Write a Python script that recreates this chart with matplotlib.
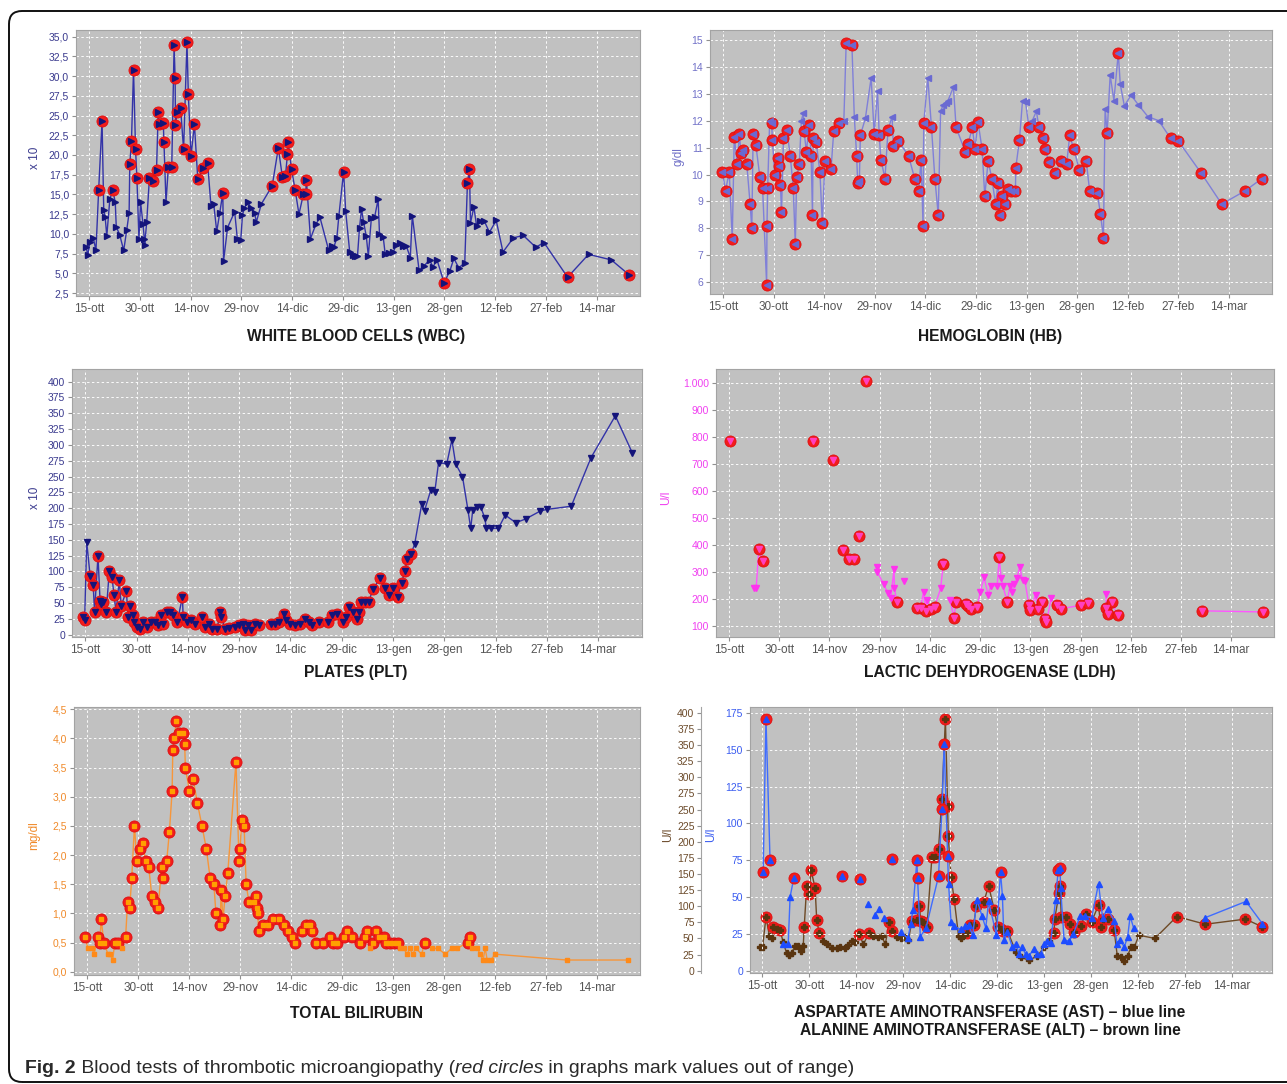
import numpy as np
import matplotlib
matplotlib.use("Agg")
import matplotlib.pyplot as plt
from matplotlib.ticker import FuncFormatter
from matplotlib.patches import FancyBboxPatch

plt.rcParams['font.family'] = ['Liberation Sans Narrow', 'Liberation Sans', 'DejaVu Sans']

# ---------------- data (day 0 = 15 October) ----------------
xtick_pos = [0, 15, 30, 45, 60, 75, 90, 105, 120, 135, 150]
xtick_lbl = ["15-ott", "30-ott", "14-nov", "29-nov", "14-dic", "29-dic",
             "13-gen", "28-gen", "12-feb", "27-feb", "14-mar"]

wbc = [(-0.9, 8.3), (-0.4, 7.3), (0.2, 9.0), (1.2, 9.5), (2.0, 7.9), (2.8, 15.6), (3.8, 24.3),
       (4.3, 13.0), (4.7, 12.2), (5.2, 9.7), (6.1, 14.4), (7.0, 15.5), (7.7, 14.0), (8.0, 10.9),
       (9.0, 9.9), (10.2, 7.9), (11.1, 10.5), (11.8, 12.7), (12.0, 18.8), (12.5, 21.8), (13.1, 30.8),
       (13.7, 20.7), (14.1, 17.1), (14.7, 9.4), (15.2, 14.0), (15.9, 11.2), (16.3, 9.4), (16.4, 8.6),
       (17.0, 11.5), (17.8, 17.1), (19.0, 16.7), (19.9, 18.1), (20.4, 25.5), (20.7, 23.9), (21.9, 24.0),
       (22.1, 21.6), (22.7, 14.0), (23.4, 18.5), (24.4, 18.5), (25.1, 33.9), (25.4, 29.7), (25.5, 23.8),
       (26.0, 25.5), (27.0, 26.0), (27.9, 20.7), (28.9, 34.3), (29.3, 27.7), (30.1, 19.9), (31.1, 23.9),
       (32.1, 16.9), (33.6, 18.3), (35.0, 19.0), (36.0, 13.5), (36.8, 13.8), (37.7, 10.3), (38.6, 12.7),
       (39.5, 15.2), (39.7, 6.5), (40.9, 10.8), (43.0, 12.8), (43.8, 9.3), (44.8, 9.2), (45.3, 12.4),
       (45.9, 13.3), (46.9, 14.0), (47.9, 13.3), (48.9, 12.6), (49.4, 11.5), (50.9, 13.8), (54.1, 16.1),
       (55.9, 20.9), (57.1, 17.2), (58.0, 17.3), (58.6, 20.1), (58.8, 21.6), (59.8, 18.2), (60.9, 15.5),
       (62.0, 12.5), (63.3, 15.0), (64.0, 15.0), (64.2, 16.8), (65.4, 9.4), (67.0, 11.2), (68.2, 12.1),
       (70.8, 7.9), (71.7, 8.5), (72.3, 8.3), (73.2, 9.5), (73.8, 12.3), (75.2, 17.9), (75.8, 12.9),
       (77.0, 7.7), (77.9, 7.3), (78.7, 7.2), (79.3, 7.2), (79.9, 10.8), (80.5, 13.1), (81.1, 11.5),
       (81.9, 9.7), (82.5, 7.2), (83.4, 12.0), (84.4, 12.2), (85.4, 14.4), (85.8, 10.0), (86.9, 9.6),
       (87.5, 7.4), (88.7, 7.6), (89.9, 7.7), (90.7, 8.6), (91.9, 8.8), (92.8, 8.4), (93.7, 8.5),
       (94.9, 7.0), (95.5, 12.3), (97.5, 5.4), (98.9, 5.9), (100.6, 6.7), (101.6, 5.8), (102.8, 6.7),
       (104.9, 3.8), (106.6, 5.3), (107.8, 6.9), (109.2, 5.7), (111.0, 6.3), (111.8, 16.5), (112.4, 18.2),
       (112.7, 11.4), (113.7, 13.4), (114.5, 11.0), (115.6, 11.6), (116.8, 11.6), (118.3, 10.2),
       (120.3, 11.7), (122.3, 7.7), (125.4, 9.5), (128.3, 9.8), (132.0, 8.3), (134.4, 8.9),
       (141.4, 4.5), (147.6, 7.4), (154.3, 6.7), (159.6, 4.8)]

hb = [(-0.2, 10.1), (0.7, 9.4), (1.8, 10.1), (2.7, 7.6), (3.3, 11.4), (4.2, 10.4), (4.8, 11.5),
      (5.3, 10.8), (6.0, 10.9), (7.0, 10.4), (8.0, 8.9), (8.5, 8.0), (8.9, 11.5), (9.7, 11.1),
      (10.9, 9.9), (11.7, 9.5), (12.9, 5.9), (13.0, 8.1), (13.2, 9.5), (13.8, 12.0), (14.4, 11.9),
      (14.6, 11.3), (15.3, 10.0), (16.2, 10.6), (16.5, 10.3), (17.0, 9.6), (17.3, 8.6), (17.9, 11.35),
      (18.9, 11.65), (19.9, 10.7), (20.8, 9.5), (21.4, 7.4), (21.8, 9.9), (22.6, 10.4), (23.2, 12.0),
      (23.8, 12.3), (24.0, 11.6), (24.7, 10.85), (25.5, 11.85), (26.1, 10.7), (26.5, 8.5), (26.7, 11.35),
      (27.6, 11.2), (28.7, 10.1), (29.4, 8.2), (30.2, 10.5), (32.0, 10.2), (32.8, 11.6), (34.3, 11.9),
      (35.8, 12.0), (36.5, 14.9), (38.2, 14.8), (38.9, 12.15), (39.6, 10.7), (39.9, 9.7), (40.4, 9.75),
      (40.7, 11.45), (42.2, 12.1), (43.9, 13.6), (44.8, 11.5), (45.8, 13.1), (46.3, 11.45), (46.8, 10.55),
      (48.0, 9.85), (48.9, 11.65), (50.1, 12.15), (50.5, 11.05), (51.9, 11.25), (55.0, 10.7), (56.8, 9.85),
      (58.0, 9.4), (58.7, 10.55), (59.3, 8.1), (59.5, 11.9), (60.7, 13.6), (61.8, 11.75), (62.8, 9.85),
      (63.8, 8.5), (64.5, 12.35), (65.3, 12.6), (66.2, 12.65), (66.7, 12.75), (68.3, 13.25), (69.1, 11.75),
      (71.8, 10.85), (72.7, 11.15), (73.9, 11.75), (74.7, 10.95), (75.6, 11.95), (76.8, 10.95), (77.6, 9.2),
      (78.6, 10.5), (79.7, 9.85), (80.8, 8.9), (81.5, 9.7), (82.0, 8.5), (82.7, 9.2), (83.7, 8.9),
      (84.4, 9.45), (85.5, 9.4), (86.7, 9.4), (86.8, 10.25), (87.9, 11.3), (88.8, 12.75), (89.7, 12.7),
      (90.7, 11.75), (91.7, 12.0), (92.9, 12.35), (93.7, 11.75), (94.8, 11.35), (95.6, 10.95), (96.6, 10.45),
      (98.5, 10.05), (100.1, 10.5), (101.9, 10.4), (102.8, 11.45), (104.0, 10.95), (105.7, 10.15),
      (107.7, 10.5), (108.7, 9.4), (111.0, 9.3), (111.9, 8.55), (112.8, 7.65), (113.3, 12.45), (113.9, 11.55),
      (114.8, 13.7), (115.9, 12.75), (117.2, 14.5), (117.8, 13.35), (119.0, 12.55), (121.0, 12.95),
      (123.1, 12.6), (126.0, 12.15), (129.2, 12.0), (132.7, 11.35), (135.0, 11.25), (141.8, 10.05),
      (147.9, 8.9), (154.9, 9.4), (159.8, 9.85)]

plt_ = [(-0.6, 28), (-0.2, 23), (0.4, 147), (1.4, 93), (2.3, 78), (2.7, 36), (3.7, 125), (4.3, 54),
        (4.7, 48), (5.3, 52), (6.1, 36), (7.0, 100), (7.8, 91), (8.4, 62), (9.0, 36), (9.9, 86), (10.5, 46),
        (12.0, 69), (12.5, 28), (13.1, 46), (13.8, 31), (14.2, 20), (15.2, 12), (16.1, 9), (16.9, 20),
        (17.9, 12), (19.3, 20), (20.4, 20), (21.2, 15), (22.2, 31), (22.8, 17), (23.9, 36), (24.9, 36),
        (25.7, 31), (26.9, 20), (28.4, 60), (28.6, 28), (29.8, 20), (30.9, 23), (32.1, 17), (34.1, 28),
        (35.0, 12), (36.2, 17), (37.1, 9), (38.5, 9), (39.5, 36), (39.7, 28), (40.9, 9), (42.0, 11),
        (43.8, 12), (45.0, 15), (46.1, 17), (46.7, 7), (47.6, 16), (48.5, 7), (49.6, 17), (50.8, 15),
        (54.3, 17), (55.5, 17), (56.6, 20), (58.1, 33), (58.7, 23), (59.9, 17), (61.3, 15), (62.8, 17),
        (64.2, 25), (65.4, 20), (66.3, 15), (68.3, 20), (71.0, 20), (72.2, 31), (73.6, 33), (75.3, 20),
        (76.1, 28), (77.1, 44), (78.2, 36), (79.4, 25), (80.0, 36), (80.6, 52), (81.7, 52), (82.9, 52),
        (84.1, 72), (86.2, 89), (87.6, 74), (88.7, 62), (90.1, 74), (91.3, 60), (92.5, 82), (93.4, 100),
        (94.2, 120), (95.2, 127), (96.3, 143), (98.4, 207), (99.2, 196), (101.0, 228), (102.2, 226),
        (103.3, 272), (105.7, 270), (107.2, 308), (108.3, 270), (110.3, 250), (111.9, 197), (112.7, 168),
        (113.3, 197), (114.4, 202), (115.6, 202), (116.8, 185), (117.3, 168), (118.5, 168), (120.8, 168),
        (122.8, 189), (125.9, 177), (128.8, 183), (132.9, 195), (134.9, 198), (142.1, 203), (147.9, 280),
        (155.0, 346), (160.0, 287)]

# None = measurement gap (line interrupted)
ldh = [(0.4, 786), None, (7.5, 241), (8.1, 239), (8.9, 387), (10.2, 340), None, (25.2, 786), None,
       (31.2, 715), None, (34.1, 381), (35.9, 350), (37.4, 350), None, (38.9, 434), None, (41.0, 1009),
       None, (44.2, 319), (44.3, 300), (46.2, 255), (47.4, 223), (48.3, 202), (49.3, 313), (49.4, 242),
       (50.1, 189), None, (52.3, 266), None, (56.0, 168), (57.2, 168), (58.1, 226), (58.8, 154),
       (59.0, 195), (60.2, 164), (61.4, 171), (63.2, 239), (64.0, 329), None, (66.1, 195), (67.1, 131),
       (67.9, 189), None, (70.9, 183), (71.4, 174), (72.3, 162), (74.2, 171), (75.0, 226), (76.2, 280),
       (77.4, 216), (78.2, 249), (80.1, 249), (80.7, 354), (81.3, 276), (81.8, 249), (83.1, 189),
       (83.9, 249), (84.5, 226), (85.1, 254), (86.0, 276), (86.8, 319), (87.7, 270), (88.4, 266),
       (89.6, 177), (90.0, 158), (91.6, 216), (92.2, 164), (93.4, 187), (94.3, 127), (94.8, 115),
       (96.3, 205), None, (98.1, 179), (99.3, 164), (105.2, 177), (107.2, 185), None, (112.6, 220),
       (112.7, 167), (113.3, 146), (114.3, 187), (116.1, 140), None, (141.4, 156), (159.5, 152)]

bili = [(-0.6, 0.6), (0.2, 0.4), (1.4, 0.4), (2.0, 0.3), (3.2, 0.6), (3.7, 0.5), (4.1, 0.9), (4.9, 0.5),
        (6.1, 0.3), (6.7, 0.3), (7.5, 0.2), (8.1, 0.5), (9.2, 0.5), (10.2, 0.4), (11.3, 0.6), (11.9, 1.2),
        (12.5, 1.1), (13.1, 1.6), (13.9, 2.5), (14.6, 1.9), (15.4, 2.1), (16.3, 2.2), (17.2, 1.9),
        (18.1, 1.8), (19.0, 1.3), (20.1, 1.2), (20.9, 1.1), (21.9, 1.8), (22.2, 1.6), (23.4, 1.9),
        (24.2, 2.4), (25.0, 3.1), (25.2, 3.8), (25.6, 4.0), (26.2, 4.3), (27.1, 4.1), (28.3, 4.1),
        (28.7, 3.9), (28.9, 3.5), (30.1, 3.1), (31.2, 3.3), (32.4, 2.9), (33.8, 2.5), (35.1, 2.1),
        (36.2, 1.6), (37.3, 1.5), (37.9, 1.0), (39.2, 0.8), (39.4, 1.4), (40.0, 0.9), (40.6, 1.3),
        (41.4, 1.7), (43.8, 3.6), (44.7, 1.9), (45.0, 2.1), (45.5, 2.6), (46.2, 2.5), (46.8, 1.5),
        (47.6, 1.2), (49.0, 1.2), (49.7, 1.3), (49.9, 1.1), (50.2, 1.0), (50.5, 0.7), (51.7, 0.8),
        (53.2, 0.8), (54.6, 0.9), (56.4, 0.9), (57.9, 0.8), (59.1, 0.7), (60.3, 0.6), (61.1, 0.5),
        (63.2, 0.7), (64.4, 0.8), (65.5, 0.8), (66.3, 0.7), (67.5, 0.5), (69.3, 0.5), (71.4, 0.6),
        (72.5, 0.5), (73.7, 0.5), (75.5, 0.6), (76.5, 0.7), (78.0, 0.6), (80.4, 0.5), (81.8, 0.6),
        (82.5, 0.7), (83.3, 0.4), (84.1, 0.5), (85.1, 0.7), (86.0, 0.6), (87.4, 0.6), (88.0, 0.5),
        (89.2, 0.5), (90.3, 0.5), (91.5, 0.5), (92.1, 0.4), (93.2, 0.4), (94.2, 0.3), (95.0, 0.4),
        (95.8, 0.3), (96.8, 0.4), (98.5, 0.3), (99.4, 0.5), (101.4, 0.4), (103.2, 0.4), (105.5, 0.3),
        (107.3, 0.4), (109.0, 0.4), (112.0, 0.5), (112.8, 0.6), (113.4, 0.4), (114.9, 0.4), (115.7, 0.3),
        (116.6, 0.2), (117.2, 0.4), (117.8, 0.2), (118.8, 0.2), (120.2, 0.3), (141.2, 0.2), (159.4, 0.2)]

ast = [(0.3, 67), (1.2, 171), (2.5, 75), None, (6.7, 18), (8.3, 18), (8.9, 50), (10.1, 63), None,
       (25.4, 64), None, (31.3, 62), None, (33.9, 45), None, (36.1, 38), None, (37.4, 42), None,
       (39.0, 36), None, (41.4, 76), None, (44.3, 26), (46.5, 22), (47.5, 32), (48.1, 41), (49.4, 75),
       (49.6, 63), (50.5, 23), (52.3, 29), (56.3, 64), (57.4, 110), (58.1, 154), (59.2, 78), (59.5, 59),
       (60.3, 33), (61.3, 30), (63.5, 28), (64.9, 30), (65.9, 31), (67.2, 24), (68.6, 48), (70.2, 37),
       (71.4, 29), (72.3, 47), (74.8, 24), (76.1, 67), (76.7, 51), (77.2, 21), (78.3, 26), (79.9, 16),
       (81.0, 18), (82.0, 11), (83.1, 16), (84.1, 11), (85.2, 10), (86.8, 15), (87.9, 11), (88.9, 11),
       (90.0, 18), (91.1, 20), (92.1, 19), (93.7, 48), (94.5, 68), (95.1, 70), (95.3, 56), (96.4, 21),
       (98.0, 20), (99.4, 25), (101.5, 37), (103.0, 37), (105.2, 36), (107.4, 59), (108.7, 36),
       (110.3, 42), (112.4, 34), (113.3, 18), (114.3, 21), (115.6, 16), (116.7, 23), (117.5, 37),
       (118.6, 29), None, (141.5, 36), (154.5, 47), (159.7, 32)]

alt = [(-0.7, 36), (0.1, 36), (1.2, 83), (2.3, 54), (3.0, 50), (3.5, 67), (4.6, 65), (5.7, 63), (6.7, 44),
       (7.8, 27), (8.6, 24), (9.4, 28), (10.5, 38), (11.5, 38), (12.3, 31), (13.1, 38), (13.4, 67),
       (14.2, 131), (14.9, 119), (15.6, 156), (16.9, 128), (17.4, 79), (18.2, 58), (19.5, 46), (20.8, 41),
       (22.2, 35), (23.8, 35), (24.9, 36), (26.5, 35), (27.5, 40), (28.6, 46), (29.7, 45), (30.9, 57),
       (32.3, 41), (34.2, 59), (35.5, 53), (36.9, 52), (38.2, 53), (39.3, 41), (40.6, 75), (41.4, 62),
       (43.0, 52), (44.3, 50), (45.7, 52), (46.7, 48), (47.8, 77), (49.4, 79), (50.2, 101), (50.6, 77),
       (51.5, 76), (52.6, 67), (54.2, 177), (55.2, 177), (56.3, 189), (57.4, 267), (58.5, 390),
       (59.2, 256), (59.4, 209), (60.3, 145), (61.3, 111), (62.7, 54), (63.5, 50), (64.5, 55), (65.4, 59),
       (66.5, 71), (67.5, 71), (68.4, 100), (70.8, 107), (72.3, 132), (74.1, 94), (75.2, 67), (76.1, 65),
       (77.0, 62), (78.3, 62), (81.0, 29), (82.5, 21), (85.2, 16), (87.9, 23), (90.0, 36), (91.6, 46),
       (93.2, 59), (93.4, 80), (94.8, 120), (95.1, 132), (95.5, 83), (96.9, 83), (98.3, 72), (99.6, 60),
       (101.7, 70), (103.3, 88), (105.2, 76), (107.4, 102), (108.1, 68), (108.7, 80), (110.3, 80),
       (112.4, 63), (113.4, 22), (114.5, 21), (115.6, 15), (116.7, 23), (117.7, 36), (118.8, 36),
       (120.3, 55), (125.4, 50), (132.4, 84), (141.5, 72), (154.3, 80), (159.7, 68)]

# reference ranges (outside -> red circle)
wbc_range = (5.0, 14.9)
hb_range = (11.98, 14.2)
plt_range = (130, 1e9)
ldh_range = (192, 325)
bili_range = (-1, 0.45)
ast_range = (-1, 60)
alt_range = (-1, 56)

titles = ["WHITE BLOOD CELLS (WBC)", "HEMOGLOBIN (HB)", "PLATES (PLT)",
          "LACTIC DEHYDROGENASE (LDH)", "TOTAL BILIRUBIN",
          "ASPARTATE AMINOTRANSFERASE (AST) \u2013 blue line",
          "ALANINE AMINOTRANSFERASE (ALT) \u2013 brown line"]

# ---------------- styling ----------------
W, H = 1287, 1084
fig = plt.figure(figsize=(W / 100, H / 100), dpi=100)
BG = '#c1c1c1'
RED = '#f21c1c'
NAVY_T = '#3a3a8e'
XLIM = (-3.9, 162.8)


def rect(l, r, t, b):
    return [l / W, 1 - b / H, (r - l) / W, (b - t) / H]


def comma1(v, pos):
    return f"{v:.1f}".replace('.', ',')


def intf(v, pos):
    return f"{int(round(v))}"


def thousands(v, pos):
    return f"{int(round(v)):,}".replace(',', '.')


def setup(ax, ylim, yticks, fmt, tcol, xlim=XLIM):
    ax.set_facecolor(BG)
    ax.set_xlim(*xlim)
    ax.set_ylim(*ylim)
    ax.set_xticks(xtick_pos)
    ax.set_xticklabels(xtick_lbl)
    ax.set_yticks(yticks)
    ax.yaxis.set_major_formatter(FuncFormatter(fmt))
    ax.grid(True, color='white', lw=0.7, ls=(0, (2.5, 2.5)), alpha=0.95)
    ax.set_axisbelow(True)
    for s in ax.spines.values():
        s.set_color('#a3a3a3')
        s.set_linewidth(0.8)
    ax.tick_params(axis='x', colors='#909090', labelcolor='#555555', labelsize=8.5,
                   length=3, pad=2)
    ax.tick_params(axis='y', colors='#909090', labelcolor=tcol, labelsize=7.5,
                   length=3, pad=2)


def unzip(pairs):
    d = np.array([np.nan if p is None else p[0] for p in pairs], float)
    v = np.array([np.nan if p is None else p[1] for p in pairs], float)
    return d, v


def series(ax, pairs, rng, line_c, mk, mk_c, ms, red_ms=8.0, lw=1.0, inner=None):
    d, v = unzip(pairs)
    ax.plot(d, v, color=line_c, lw=lw, zorder=3)
    with np.errstate(invalid='ignore'):
        out = (v < rng[0]) | (v > rng[1])
    ax.plot(d[out], v[out], ls='none', marker='o', ms=red_ms, mfc=RED, mec='#e01010',
            mew=0.6, zorder=4)
    ax.plot(d[~out], v[~out], ls='none', marker=mk, ms=ms, mfc=mk_c, mec=mk_c, zorder=5)
    ic = inner if inner is not None else mk_c
    ax.plot(d[out], v[out], ls='none', marker=mk, ms=ms, mfc=ic, mec=ic, zorder=5)


# ---- WBC ----
ax1 = fig.add_axes(rect(76, 640, 30, 296))
setup(ax1, (2.12, 35.85), np.arange(2.5, 35.01, 2.5), comma1, NAVY_T)
series(ax1, wbc, wbc_range, '#3333a8', '>', '#14147a', 4.2)
ax1.set_ylabel("x 10", color=NAVY_T, fontsize=8.5)
ax1.yaxis.set_label_coords(-0.062, 0.52)

# ---- HB ----
ax2 = fig.add_axes(rect(710, 1272, 30, 294))
setup(ax2, (5.56, 15.37), np.arange(6, 15.01, 1), intf, '#7272c8')
series(ax2, hb, hb_range, '#8080d8', '<', '#6a6ad2', 4.2)
ax2.set_ylabel("g/dl", color='#7272c8', fontsize=8.5)
ax2.yaxis.set_label_coords(-0.045, 0.52)

# ---- PLT ----
ax3 = fig.add_axes(rect(72, 642, 369, 637))
setup(ax3, (-3.7, 420), np.arange(0, 401, 25), intf, NAVY_T)
series(ax3, plt_, plt_range, '#3333a8', 'v', '#14147a', 4.5)
ax3.set_ylabel("x 10", color=NAVY_T, fontsize=8.5)
ax3.yaxis.set_label_coords(-0.055, 0.52)

# ---- LDH ----
ax4 = fig.add_axes(rect(716, 1274, 369, 637))
setup(ax4, (59, 1053), np.arange(100, 1001, 100), thousands, '#f040f0')
series(ax4, ldh, ldh_range, '#ff55ff', 'v', '#ff33ee', 4.5, inner='#ff40c0')
ax4.set_ylabel("U/l", color='#f040f0', fontsize=8.5)
ax4.yaxis.set_label_coords(-0.078, 0.52)

# ---- Bilirubin ----
ax5 = fig.add_axes(rect(74, 640, 707, 975))
setup(ax5, (-0.057, 4.54), np.arange(0, 4.51, 0.5), comma1, '#f08a2a')
series(ax5, bili, bili_range, '#f7963a', 's', '#ff8a18', 3.2, inner='#ffa000')
ax5.set_ylabel("mg/dl", color='#f08a2a', fontsize=8.5)
ax5.yaxis.set_label_coords(-0.059, 0.52)

# ---- AST / ALT ----
ax6 = fig.add_axes(rect(750, 1272, 707, 973))
setup(ax6, (-1.6, 179), np.arange(0, 176, 25), intf, '#3a5cf0')
ax6b = ax6.twinx()
ax6b.set_ylim(-1.6 * 400 / 175, 179 * 400 / 175)
ax6b.set_yticks(np.arange(0, 401, 25))
ax6b.yaxis.set_major_formatter(FuncFormatter(intf))
ax6b.yaxis.set_ticks_position('left')
ax6b.yaxis.set_label_position('left')
ax6b.spines['left'].set_position(('outward', 35))
for k in ('right', 'top', 'bottom'):
    ax6b.spines[k].set_visible(False)
ax6b.spines['left'].set_color('#a3a3a3')
ax6b.tick_params(axis='y', colors='#909090', labelcolor='#6b4a2a', labelsize=7.5,
                 length=3, pad=2)
# ALT drawn behind AST
ax6b.set_zorder(1)
ax6.set_zorder(2)
ax6.patch.set_visible(False)
ax6b.patch.set_visible(True)
ax6b.patch.set_facecolor(BG)
series(ax6b, alt, alt_range, '#6e4a26', 'P', '#5a3510', 4.0)
series(ax6, ast, ast_range, '#3f6cff', '^', '#1e4dff', 4.3)
ax6.set_ylabel("U/l", color='#3a5cf0', fontsize=8.5)
ax6.yaxis.set_label_coords(-0.063, 0.52)
ax6b.set_ylabel("U/l", color='#6b4a2a', fontsize=8.5)
ax6b.yaxis.set_label_coords(-0.146, 0.52)

# ---------------- titles ----------------
tkw = dict(ha='center', va='center', fontweight='bold', color='#1a1a1a')
tpos = [(356, 336), (990, 336), (356, 673), (990, 673), (356, 1013), (990, 1013), (990, 1031)]
tobjs = [fig.text(x / W, 1 - y / H, t, fontsize=12, **tkw) for t, (x, y) in zip(titles, tpos)]

# caption pieces
cap_parts = [("Fig. 2", 'bold', 'normal'),
             (" Blood tests of thrombotic microangiopathy (", 'normal', 'normal'),
             ("red circles", 'normal', 'italic'),
             (" in graphs mark values out of range)", 'normal', 'normal')]
cap_objs = [fig.text(0, 0.0105, s, fontsize=14, fontweight=w, fontstyle=st, color='#2a2a2a',
                     va='baseline', ha='left') for s, w, st in cap_parts]

fig.canvas.draw()
r = fig.canvas.get_renderer()
# fit title size to reference width of the first title (219 px)
w0 = tobjs[0].get_window_extent(r).width
ts = 12 * 219 / w0
for t in tobjs:
    t.set_fontsize(ts)
# fit caption to 833 px total width
tot = sum(o.get_window_extent(r).width for o in cap_objs)
cs = 14 * 833 / tot
for o in cap_objs:
    o.set_fontsize(cs)
fig.canvas.draw()
x = 25
for o in cap_objs:
    o.set_x(x / W)
    x += o.get_window_extent(r).width

# border
box = FancyBboxPatch((0.09, 0.02), 13.3, 10.71, boxstyle='round,pad=0,rounding_size=0.13',
                     transform=fig.dpi_scale_trans, fill=False, ec='#111111', lw=1.4)
fig.add_artist(box)

fig.savefig("out.png", dpi=100, facecolor='white')
